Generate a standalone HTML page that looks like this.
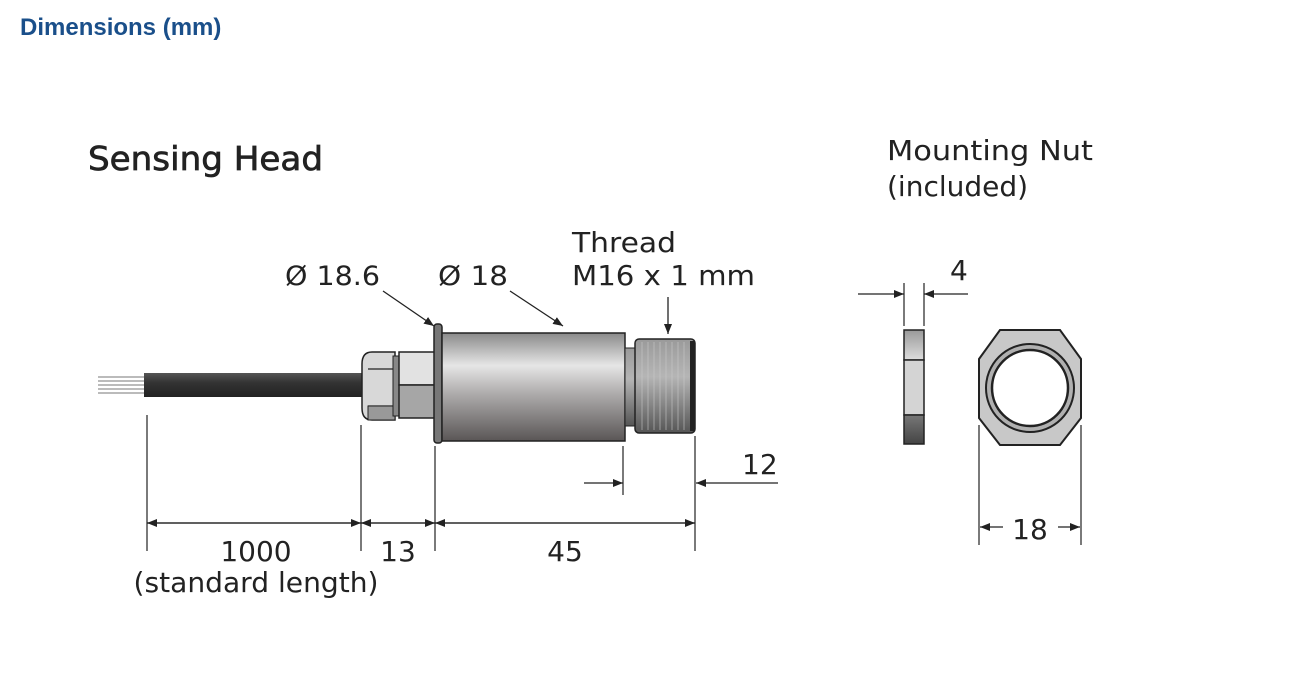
<!DOCTYPE html>
<html><head><meta charset="utf-8"><style>
html,body{margin:0;padding:0;background:#fff;}
svg{display:block;}
text{font-family:"DejaVu Sans","Liberation Sans",sans-serif;fill:#222;}
</style></head><body>
<svg width="1292" height="687" viewBox="0 0 1292 687" xmlns="http://www.w3.org/2000/svg">
<defs>
<linearGradient id="cyl" x1="0" y1="0" x2="0" y2="1">
<stop offset="0" stop-color="#8a8a8a"/><stop offset="0.3" stop-color="#e6e6e6"/><stop offset="0.55" stop-color="#b0aeae"/><stop offset="1" stop-color="#5a5656"/>
</linearGradient>
<linearGradient id="cab" x1="0" y1="0" x2="0" y2="1">
<stop offset="0" stop-color="#555"/><stop offset="0.4" stop-color="#333"/><stop offset="1" stop-color="#222"/>
</linearGradient>
<linearGradient id="thr" x1="0" y1="0" x2="0" y2="1">
<stop offset="0" stop-color="#9a9a9a"/><stop offset="0.4" stop-color="#b5b5b5"/><stop offset="1" stop-color="#555"/>
</linearGradient>
<linearGradient id="nutTop" x1="0" y1="0" x2="0" y2="1">
<stop offset="0" stop-color="#999"/><stop offset="1" stop-color="#ddd"/>
</linearGradient>
<linearGradient id="nutBot" x1="0" y1="0" x2="0" y2="1">
<stop offset="0" stop-color="#777"/><stop offset="1" stop-color="#444"/>
</linearGradient>
<marker id="ar" markerWidth="10" markerHeight="8" refX="10" refY="4" orient="auto" markerUnits="userSpaceOnUse"><path d="M0,0 L10,4 L0,8 Z" fill="#222"/></marker>
</defs>

<text x="20" y="35" font-size="24" font-weight="bold" style="fill:#1a4f8a;font-family:'Liberation Sans',sans-serif">Dimensions (mm)</text>
<text x="88" y="170" font-size="33" stroke="#222" stroke-width="0.7" textLength="235" lengthAdjust="spacingAndGlyphs">Sensing Head</text>
<text x="887" y="160" font-size="28" textLength="206" lengthAdjust="spacingAndGlyphs">Mounting Nut</text>
<text x="887" y="196" font-size="28">(included)</text>

<!-- wires -->
<g stroke="#777" stroke-width="1">
<line x1="98" y1="377" x2="146" y2="377"/><line x1="98" y1="381" x2="146" y2="381"/><line x1="98" y1="385" x2="146" y2="385"/><line x1="98" y1="389" x2="146" y2="389"/><line x1="98" y1="393" x2="146" y2="393"/>
</g>
<rect x="144" y="373" width="220" height="24" fill="url(#cab)"/>
<!-- gland -->
<path d="M372,352 H395 V420 H372 Q362,420 362,408 V364 Q362,352 372,352 Z" fill="#d8d8d8" stroke="#222" stroke-width="1.5"/>
<line x1="368" y1="369" x2="395" y2="369" stroke="#222" stroke-width="1.2"/>
<line x1="368" y1="406" x2="395" y2="406" stroke="#222" stroke-width="1.2"/>
<rect x="368" y="406" width="27" height="14" fill="#999" stroke="#222" stroke-width="1"/>
<rect x="393" y="356" width="8" height="60" fill="#888" stroke="#222" stroke-width="1"/>
<rect x="399" y="352" width="36" height="33" fill="#e2e2e2" stroke="#222" stroke-width="1.5"/>
<rect x="399" y="385" width="36" height="33" fill="#a6a6a6" stroke="#222" stroke-width="1.5"/>
<!-- flange -->
<rect x="434" y="324" width="8" height="119" rx="3" fill="#777" stroke="#222" stroke-width="1.5"/>
<!-- cylinder -->
<rect x="442" y="333" width="183" height="108" fill="url(#cyl)" stroke="#222" stroke-width="1.5"/>
<rect x="625" y="348" width="10" height="78" fill="url(#thr)" stroke="#222" stroke-width="1"/>
<rect x="635" y="339" width="60" height="94" rx="4" fill="url(#thr)" stroke="#222" stroke-width="1.5"/>
<g stroke="#ccc" stroke-width="0.8" opacity="0.7">
<line x1="642" y1="342" x2="642" y2="430"/><line x1="648" y1="342" x2="648" y2="430"/><line x1="654" y1="342" x2="654" y2="430"/><line x1="660" y1="342" x2="660" y2="430"/><line x1="666" y1="342" x2="666" y2="430"/><line x1="672" y1="342" x2="672" y2="430"/><line x1="678" y1="342" x2="678" y2="430"/><line x1="684" y1="342" x2="684" y2="430"/>
</g>
<rect x="690" y="341" width="5" height="90" fill="#222"/>

<!-- leaders -->
<g stroke="#222" stroke-width="1.3" fill="none">
<line x1="383" y1="291" x2="434" y2="326" marker-end="url(#ar)"/>
<line x1="510" y1="291" x2="563" y2="326" marker-end="url(#ar)"/>
<line x1="668" y1="297" x2="668" y2="334" marker-end="url(#ar)"/>
</g>
<text x="285" y="285" font-size="27" textLength="95" lengthAdjust="spacingAndGlyphs">Ø 18.6</text>
<text x="438" y="285" font-size="27" textLength="70" lengthAdjust="spacingAndGlyphs">Ø 18</text>
<text x="572" y="252" font-size="28" textLength="104" lengthAdjust="spacingAndGlyphs">Thread</text>
<text x="572" y="285" font-size="28" textLength="183" lengthAdjust="spacingAndGlyphs">M16 x 1 mm</text>

<!-- extension lines -->
<g stroke="#222" stroke-width="1.2" fill="none">
<line x1="147" y1="415" x2="147" y2="551"/>
<line x1="361" y1="425" x2="361" y2="551"/>
<line x1="435" y1="446" x2="435" y2="551"/>
<line x1="623" y1="446" x2="623" y2="495"/>
<line x1="695" y1="436" x2="695" y2="551"/>
<line x1="147" y1="523" x2="361" y2="523" marker-end="url(#ar)"/>
<line x1="361" y1="523" x2="147" y2="523" marker-end="url(#ar)"/>
<line x1="361" y1="523" x2="435" y2="523" marker-end="url(#ar)"/>
<line x1="435" y1="523" x2="361" y2="523" marker-end="url(#ar)"/>
<line x1="435" y1="523" x2="695" y2="523" marker-end="url(#ar)"/>
<line x1="695" y1="523" x2="435" y2="523" marker-end="url(#ar)"/>
<line x1="584" y1="483" x2="623" y2="483" marker-end="url(#ar)"/>
<line x1="778" y1="483" x2="696" y2="483" marker-end="url(#ar)"/>
</g>
<text x="742" y="474" font-size="28">12</text>
<text x="256" y="561" font-size="28" text-anchor="middle">1000</text>
<text x="256" y="592" font-size="28" text-anchor="middle" textLength="245" lengthAdjust="spacingAndGlyphs">(standard length)</text>
<text x="398" y="561" font-size="28" text-anchor="middle">13</text>
<text x="565" y="561" font-size="28" text-anchor="middle">45</text>

<!-- nut side -->
<rect x="904" y="330" width="20" height="30" fill="url(#nutTop)" stroke="#222" stroke-width="1.5"/>
<rect x="904" y="360" width="20" height="55" fill="#d4d4d4" stroke="#222" stroke-width="1.5"/>
<rect x="904" y="415" width="20" height="29" fill="url(#nutBot)" stroke="#222" stroke-width="1.5"/>
<g stroke="#222" stroke-width="1.2">
<line x1="904" y1="283" x2="904" y2="326"/>
<line x1="924" y1="283" x2="924" y2="326"/>
<line x1="858" y1="294" x2="904" y2="294" marker-end="url(#ar)"/>
<line x1="968" y1="294" x2="924" y2="294" marker-end="url(#ar)"/>
</g>
<text x="950" y="280" font-size="28">4</text>
<!-- nut front -->
<path d="M1000,330 H1060 L1081,359 V418 L1060,445 H1000 L979,418 V359 Z" fill="#c8c8c8" stroke="#222" stroke-width="2"/>
<circle cx="1030" cy="388" r="44" fill="#b0b0b0" stroke="#222" stroke-width="2"/>
<circle cx="1030" cy="388" r="38" fill="#fff" stroke="#222" stroke-width="2.5"/>
<g stroke="#222" stroke-width="1.2">
<line x1="979" y1="425" x2="979" y2="545"/>
<line x1="1081" y1="425" x2="1081" y2="545"/>
<line x1="1003" y1="527" x2="980" y2="527" marker-end="url(#ar)"/>
<line x1="1058" y1="527" x2="1080" y2="527" marker-end="url(#ar)"/>
</g>
<text x="1030" y="539" font-size="28" text-anchor="middle">18</text>
</svg>
</body></html>
